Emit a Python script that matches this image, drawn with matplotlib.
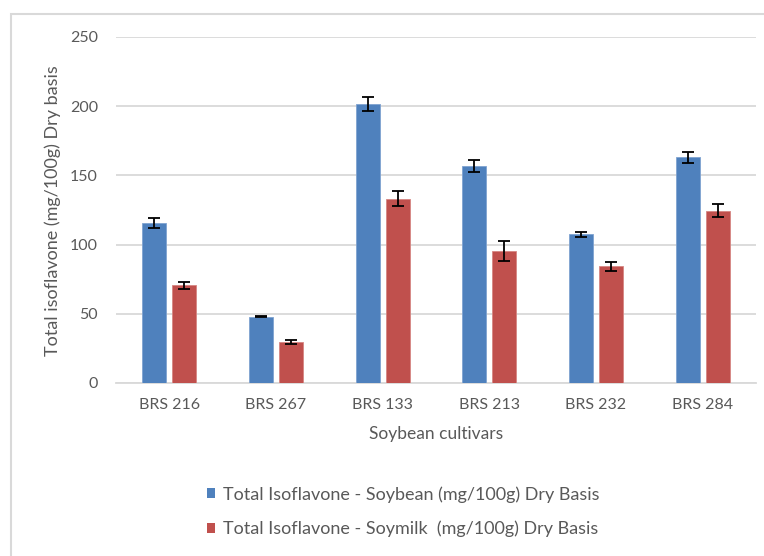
import numpy as np
import matplotlib.pyplot as plt
from matplotlib.patches import Patch, Rectangle

cultivars = ['BRS 216', 'BRS 267', 'BRS 133', 'BRS 213', 'BRS 232', 'BRS 284']
soybean = [115.5, 48.0, 201.5, 156.7, 107.3, 163.0]
soybean_err = [3.5, 0.6, 4.8, 4.2, 1.8, 3.7]
soymilk = [70.5, 29.5, 133.3, 95.4, 84.2, 124.5]
soymilk_err = [2.5, 1.5, 5.4, 7.2, 3.0, 4.8]

blue = '#4F81BD'
red = '#C0504D'
grey_txt = '#595959'
grid_c = '#D9D9D9'

plt.rcParams['font.family'] = ['Lato', 'DejaVu Sans']

fig = plt.figure(figsize=(7.64, 5.56), dpi=100)
ax = fig.add_axes([116 / 764, 1 - 383 / 556, 640 / 764, 346 / 556])

x = np.arange(len(cultivars))
w = 0.225
off = 0.14
ax.bar(x - off, soybean, w, color=blue, edgecolor='#7FA3D1', linewidth=0.6, zorder=3)
ax.bar(x + off, soymilk, w, color=red, edgecolor='#D68683', linewidth=0.6, zorder=3)
ax.errorbar(x - off, soybean, yerr=soybean_err, fmt='none', ecolor='black',
            elinewidth=1.3, capsize=4, capthick=1.3, zorder=4)
ax.errorbar(x + off, soymilk, yerr=soymilk_err, fmt='none', ecolor='black',
            elinewidth=1.3, capsize=4, capthick=1.3, zorder=4)

ax.set_xlim(-0.5, 5.5)
ax.set_ylim(0, 250)
ax.set_yticks([0, 50, 100, 150, 200, 250])
ax.set_xticks(x)
ax.set_xticklabels(cultivars)
ax.yaxis.grid(True, color=grid_c, linewidth=1.3, zorder=0)
ax.set_axisbelow(True)
for s in ['top', 'right', 'left']:
    ax.spines[s].set_visible(False)
ax.spines['bottom'].set_color(grid_c)
ax.spines['bottom'].set_linewidth(1.3)
ax.tick_params(axis='both', length=0, labelsize=11.5, labelcolor=grey_txt)
ax.tick_params(axis='x', pad=11)
ax.tick_params(axis='y', pad=13)

ax.set_xlabel('Soybean cultivars', fontsize=12.5, color=grey_txt, labelpad=10)
fig.text(53 / 764, 1 - 211 / 556, 'Total isoflavone (mg/100g) Dry basis',
         rotation=90, ha='center', va='center', fontsize=13, color=grey_txt)

handles = [Patch(facecolor=blue), Patch(facecolor=red)]
labels = ['Total Isoflavone - Soybean (mg/100g) Dry Basis',
          'Total Isoflavone - Soymilk  (mg/100g) Dry Basis']
fig.legend(handles, labels, loc='upper left', bbox_to_anchor=(207 / 764, 1 - 486 / 556),
           frameon=False, fontsize=13, labelcolor=grey_txt, handlelength=0.45,
           handleheight=0.45, handletextpad=0.45, labelspacing=1.0,
           borderpad=0, borderaxespad=0)

# outer chart border
fig.patches.append(Rectangle((11 / 764, -0.1), 1.2, 1 - 14 / 556 + 0.1,
                             transform=fig.transFigure, fill=False,
                             edgecolor=grid_c, linewidth=1.5))

fig.savefig('out.png', dpi=100)
